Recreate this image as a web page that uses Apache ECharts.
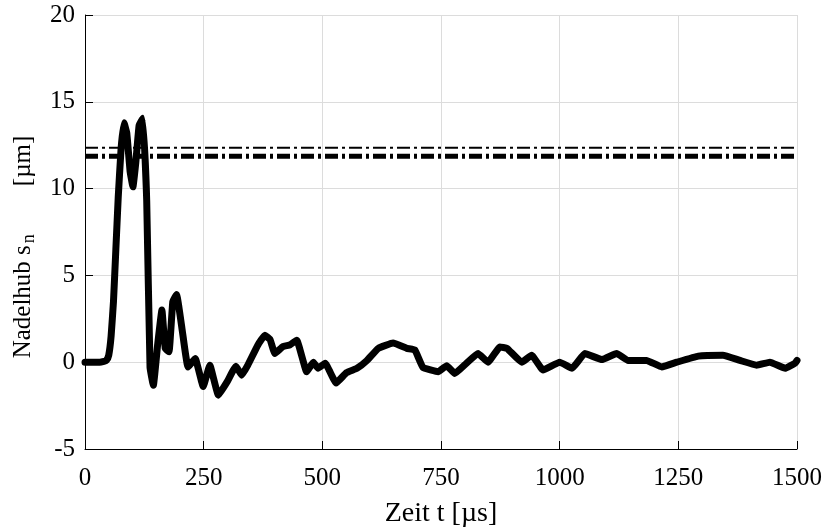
<!DOCTYPE html>
<html>
<head>
<meta charset="utf-8">
<script src="https://cdn.jsdelivr.net/npm/echarts@6/dist/echarts.min.js"></script>
<style>
  html, body { margin: 0; padding: 0; background: #fff; }
  #chart { width: 826px; height: 527px; }
</style>
</head>
<body>
<div id="chart"></div>
<script>
// Nadelhub over time
const timeUs = [0, 31, 40, 45, 50, 55, 60, 65, 70, 76, 82, 88, 95, 101, 107, 114, 122, 130, 137, 144,
  153, 162, 169, 177, 185, 193, 205, 217, 232, 249, 263, 281, 299, 318, 330, 343, 364, 379, 390, 400,
  417, 432, 446, 467, 481, 491, 506, 529, 551, 573, 594, 618, 649, 678, 695, 712, 744, 762, 779, 804,
  828, 849, 874, 889, 920, 941, 965, 1000, 1026, 1053, 1089, 1120, 1144, 1183, 1215, 1247, 1292, 1344,
  1380, 1415, 1443, 1475, 1496, 1500]
const liftUm = [0, 0, 0.05, 0.1, 0.4, 1.5, 3.5, 6.5, 9.5, 12.3, 13.8, 13.2, 11.0, 10.1, 11.5, 13.65, 14.05, 9.3, -0.3, -1.33,
  1.0, 3.0, 0.8, 0.6, 3.5, 3.9, 1.8, -0.28, 0.22, -1.4, -0.17, -1.9, -1.15, -0.23, -0.75, -0.17, 0.98, 1.55, 1.3, 0.5,
  0.9, 1.0, 1.27, -0.55, 0, -0.35, -0.06, -1.2, -0.6, -0.35, 0.1, 0.8, 1.1, 0.8, 0.7, -0.3, -0.55, -0.2, -0.65, -0.05,
  0.5, 0, 0.87, 0.8, 0, 0.4, -0.45, 0, -0.35, 0.5, 0.15, 0.5, 0.1, 0.1, -0.27, 0, 0.35, 0.4,
  0.1, -0.17, 0, -0.35, -0.05, 0.1]

// horizontal reference levels (dash-dot)
const refLevels = [12.35, 11.87]
const refWidths = [2, 5]

const xTicks = [0, 250, 500, 750, 1000, 1250, 1500]

const font = 'Liberation Serif, Times New Roman, serif'

const chart = echarts.init(document.getElementById('chart'))

const refSeries = refLevels.map((lvl, i) => ({
  type: 'line',
  data: [[xTicks[0], lvl], [xTicks[xTicks.length - 1], lvl]],
  symbol: 'none',
  silent: true,
  z: 2,
  lineStyle: { color: '#000', width: refWidths[i], type: [13, 4, 3, 4] }
}))

chart.setOption({
  animation: false,
  grid: { left: 85, right: 29, top: 15, bottom: 78, outerBoundsMode: 'none', containLabel: false },
  xAxis: {
    type: 'value',
    min: 0,
    max: 1500,
    interval: 250,
    name: 'Zeit t [µs]',
    nameLocation: 'middle',
    nameGap: 51,
    nameTextStyle: { fontFamily: font, fontSize: 28, color: '#000' },
    axisLine: { onZero: false, lineStyle: { color: '#000', width: 1 } },
    axisTick: { inside: true, length: 8, lineStyle: { color: '#000' } },
    axisLabel: { fontFamily: font, fontSize: 25, color: '#000', margin: 17, formatter: v => String(v) },
    splitLine: { show: true, lineStyle: { color: '#dcdcdc', width: 1 } }
  },
  yAxis: {
    type: 'value',
    min: -5,
    max: 20,
    interval: 5,
    name: '{n|Nadelhub s}{sub|n}{g|[µm]}',
    nameLocation: 'middle',
    nameGap: 49,
    nameRotate: 90,
    nameTextStyle: {
      rich: {
        n: { fontFamily: font, fontSize: 25, color: '#000' },
        sub: { fontFamily: font, fontSize: 18, color: '#000', padding: [0, 0, -12, 2] },
        g: { fontFamily: font, fontSize: 25, color: '#000', padding: [0, 30, 0, 48] }
      }
    },
    axisLine: { show: true, onZero: false, lineStyle: { color: '#000', width: 1 } },
    axisTick: { show: true, inside: true, length: 8, lineStyle: { color: '#000' } },
    axisLabel: { fontFamily: font, fontSize: 25, color: '#000', margin: 10 },
    splitLine: { show: true, lineStyle: { color: '#dcdcdc', width: 1 } }
  },
  series: [
    ...refSeries,
    {
      type: 'line',
      data: timeUs.map((t, i) => [t, liftUm[i]]),
      symbol: 'none',
      smooth: 0.1,
      z: 3,
      lineStyle: { color: '#000', width: 7, join: 'round', cap: 'round' }
    }
  ]
})
</script>
</body>
</html>
